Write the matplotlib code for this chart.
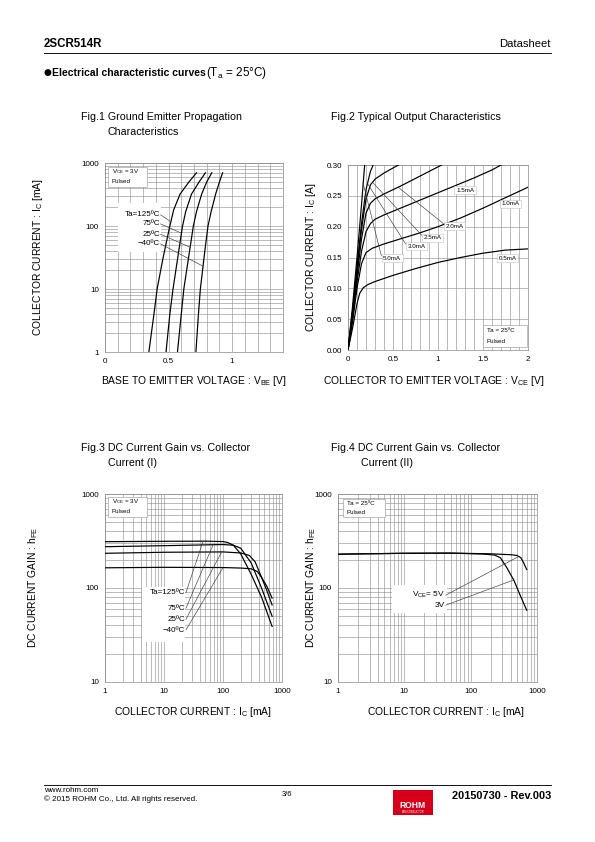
import numpy as np
import matplotlib
matplotlib.use("Agg")
import matplotlib.pyplot as plt
from matplotlib.patches import Rectangle
from matplotlib.ticker import FixedLocator, NullFormatter, LogLocator

plt.rcParams['font.family'] = ['Liberation Sans', 'DejaVu Sans']
plt.rcParams['mathtext.fontset'] = 'custom'
plt.rcParams['mathtext.rm'] = 'Liberation Sans'
plt.rcParams['mathtext.it'] = 'Liberation Sans:italic'
plt.rcParams['mathtext.bf'] = 'Liberation Sans:bold'

W, H = 595, 842

# ---------------- data ----------------
# Fig.1  VBE [V] vs IC [mA]
fig1_temps = ['125', '75', '25', '-40']
fig1_vbe = {
    '125': [0.345, 0.385, 0.41, 0.455, 0.51, 0.54, 0.59, 0.66, 0.72],
    '75':  [0.48, 0.51, 0.535, 0.58, 0.61, 0.635, 0.68, 0.74, 0.79],
    '25':  [0.57, 0.60, 0.62, 0.665, 0.695, 0.72, 0.76, 0.80, 0.84],
    '-40': [0.715, 0.735, 0.75, 0.785, 0.81, 0.835, 0.87, 0.90, 0.925],
}
fig1_ic = {
    '125': [1, 4, 10, 30, 100, 180, 320, 500, 700],
    '75':  [1, 4, 10, 40, 100, 170, 320, 500, 700],
    '25':  [1, 4, 10, 40, 100, 170, 320, 500, 700],
    '-40': [1, 4, 10, 40, 100, 170, 320, 500, 700],
}
fig1_label_ic = [150, 108, 74, 52]
fig1_target_ic = [117, 77, 46, 23]

# Fig.2  VCE [V] vs IC [A] for IB
fig2_ib = ['0.5mA', '1.0mA', '1.5mA', '2.0mA', '2.5mA', '3.0mA', '5.0mA']
fig2_vce = {
    '0.5mA': [0, 0.05, 0.1, 0.13, 0.17, 0.22, 0.3, 0.5, 0.75, 1.0, 1.25, 1.5, 1.75, 2.0],
    '1.0mA': [0, 0.05, 0.1, 0.15, 0.2, 0.27, 0.4, 0.6, 0.8, 1.0, 1.25, 1.5, 1.75, 2.0],
    '1.5mA': [0, 0.05, 0.1, 0.15, 0.2, 0.25, 0.3, 0.4, 0.6, 0.8, 1.0, 1.2, 1.4, 1.6, 1.7],
    '2.0mA': [0, 0.05, 0.1, 0.15, 0.2, 0.25, 0.3, 0.4, 0.6, 0.8, 1.04],
    '2.5mA': [0, 0.05, 0.1, 0.15, 0.2, 0.25, 0.3, 0.4, 0.56],
    '3.0mA': [0, 0.05, 0.1, 0.15, 0.2, 0.25, 0.28],
    '5.0mA': [0, 0.05, 0.1, 0.15, 0.185],
}
fig2_ic = {
    '0.5mA': [0, 0.035, 0.075, 0.092, 0.101, 0.106, 0.111, 0.121, 0.132, 0.142, 0.150, 0.157, 0.162, 0.164],
    '1.0mA': [0, 0.045, 0.10, 0.14, 0.158, 0.165, 0.172, 0.181, 0.19, 0.20, 0.214, 0.23, 0.247, 0.264],
    '1.5mA': [0, 0.05, 0.11, 0.16, 0.192, 0.205, 0.212, 0.219, 0.231, 0.243, 0.255, 0.267, 0.279, 0.292, 0.30],
    '2.0mA': [0, 0.055, 0.12, 0.18, 0.222, 0.238, 0.245, 0.253, 0.267, 0.282, 0.30],
    '2.5mA': [0, 0.06, 0.13, 0.195, 0.245, 0.268, 0.277, 0.287, 0.30],
    '3.0mA': [0, 0.063, 0.135, 0.205, 0.26, 0.29, 0.30],
    '5.0mA': [0, 0.07, 0.15, 0.235, 0.30],
}
fig2_label_pos = {
    '0.5mA': (1.77, 0.149), '1.0mA': (1.81, 0.237), '1.5mA': (1.30, 0.259),
    '2.0mA': (1.18, 0.201), '2.5mA': (0.94, 0.182), '3.0mA': (0.76, 0.168),
    '5.0mA': (0.49, 0.149),
}
fig2_target = {'2.0mA': 0.264, '2.5mA': 0.272, '3.0mA': 0.27, '5.0mA': 0.27}

# Fig.3  IC [mA] vs hFE, VCE=3V
fig3_temps = ['125', '75', '25', '-40']
fig3_ic = {
    '125': [1, 10, 50, 100, 120, 150, 200, 300, 450, 680],
    '75':  [1, 10, 100, 150, 200, 300, 450, 680],
    '25':  [1, 10, 100, 200, 280, 350, 450, 550, 680],
    '-40': [1, 10, 100, 200, 300, 380, 450, 550, 680],
}
fig3_hfe = {
    '125': [311, 314, 315, 312, 305, 285, 230, 140, 80, 39],
    '75':  [275, 282, 290, 285, 265, 185, 100, 50],
    '25':  [234, 240, 242, 236, 222, 190, 130, 95, 66],
    '-40': [164, 166, 165, 163, 160, 150, 130, 105, 78],
}
fig3_label_hfe = [89, 60.8, 46.4, 35.7]
fig3_target_ic = [46, 68, 95, 100]

# Fig.4  IC [mA] vs hFE, Ta=25C
fig4_vce = ['5V', '3V']
fig4_ic = {
    '5V': [1, 10, 50, 200, 400, 500, 570, 630, 700],
    '3V': [1, 10, 50, 150, 230, 280, 350, 450, 560, 700],
}
fig4_hfe = {
    '5V': [229, 234, 235, 231, 226, 222, 210, 185, 157],
    '3V': [229, 234, 235, 230, 224, 210, 165, 120, 83, 58],
}
fig4_label_hfe = [83.8, 65.6]
fig4_target_ic = [530, 445]

# ---------------- figure ----------------
fig = plt.figure(figsize=(W / 72, H / 72), dpi=72)
fig.patch.set_facecolor('white')

def fx(x):
    return x / W

def fy(y):
    return 1 - y / H

TICKFS = 8
def make_ax(x0, y0, x1, y1):
    ax = fig.add_axes([fx(x0), fy(y1), fx(x1) - fx(x0), (y1 - y0) / H])
    for s in ax.spines.values():
        s.set_color('#8a8a8a')
        s.set_linewidth(0.7)
    ax.tick_params(length=0, labelsize=TICKFS, pad=6, colors='black')
    return ax

GRID = dict(color='#909090', linewidth=0.6)
LINE = dict(color='black', linewidth=1.2)
LEAD = dict(color='#333333', linewidth=0.6)

def corner_box(ax, x0, y0, x1, y1, lines, fs=6.2):
    ax.add_patch(Rectangle((x0, y0), x1 - x0, y1 - y0, transform=ax.transAxes,
                           facecolor='white', edgecolor='#999999', linewidth=0.6, zorder=5))
    n = len(lines)
    for i, t in enumerate(lines):
        yy = y1 - (y1 - y0) * (i + 0.5) / n
        ax.text(x0 + 0.02, yy, t, transform=ax.transAxes, fontsize=fs,
                va='center', ha='left', zorder=6)

def white_box(ax, x0, y0, x1, y1):
    ax.add_patch(Rectangle((x0, y0), x1 - x0, y1 - y0, transform=ax.transAxes,
                           facecolor='white', edgecolor='none', zorder=3))

INFS = 8
# ---- Fig.1 ----
ax1 = make_ax(105, 163, 283, 352)
ax1.set_xlim(0, 1.4)
ax1.set_yscale('log')
ax1.set_ylim(1, 1000)
ax1.xaxis.set_major_locator(FixedLocator([0, 0.5, 1.0]))
ax1.set_xticklabels(['0', '0.5', '1'])
ax1.xaxis.set_minor_locator(FixedLocator(np.arange(0, 1.41, 0.1)))
ax1.yaxis.set_major_locator(FixedLocator([1, 10, 100, 1000]))
ax1.set_yticklabels(['1', '10', '100', '1000'])
ax1.yaxis.set_minor_locator(LogLocator(base=10, subs=np.arange(2, 10)))
ax1.yaxis.set_minor_formatter(NullFormatter())
ax1.tick_params(which='minor', length=0)
ax1.grid(True, which='both', **GRID)
ax1.set_axisbelow(True)
white_box(ax1, 0.075, 0.529, 0.315, 0.788)
for i, t in enumerate(fig1_temps):
    ax1.plot(fig1_vbe[t], fig1_ic[t], zorder=4, **LINE)
fig1_text = ['Ta=125ºC', '75ºC', '25ºC', '−40ºC']
for i, t in enumerate(fig1_temps):
    ax1.text(0.435, fig1_label_ic[i], fig1_text[i], fontsize=INFS, ha='right', va='center', zorder=6)
    tv = np.interp(np.log10(fig1_target_ic[i]), np.log10(fig1_ic[t]), fig1_vbe[t])
    ax1.plot([0.437, tv], [fig1_label_ic[i], fig1_target_ic[i]], zorder=4, **LEAD)
corner_box(ax1, 0.017, 0.873, 0.236, 0.979, ['V$_{\\mathrm{CE}}$ = 3V', 'Pulsed'])

# ---- Fig.2 ----
ax2 = make_ax(348, 165, 528, 350)
ax2.set_xlim(0, 2)
ax2.set_ylim(0, 0.30)
ax2.xaxis.set_major_locator(FixedLocator([0, 0.5, 1, 1.5, 2]))
ax2.set_xticklabels(['0', '0.5', '1', '1.5', '2'])
ax2.xaxis.set_minor_locator(FixedLocator(np.arange(0, 2.01, 0.1)))
ax2.yaxis.set_major_locator(FixedLocator(np.arange(0, 0.301, 0.05)))
ax2.set_yticklabels(['%.2f' % v for v in np.arange(0, 0.301, 0.05)])
ax2.tick_params(which='minor', length=0)
ax2.grid(True, which='both', **GRID)
ax2.set_axisbelow(True)
for k in fig2_ib:
    ax2.plot(fig2_vce[k], fig2_ic[k], zorder=4, **LINE)
for k in fig2_ib:
    lx, ly = fig2_label_pos[k]
    if k in fig2_target:
        tv = np.interp(fig2_target[k], fig2_ic[k], fig2_vce[k])
        ax2.plot([lx - 0.12, tv], [ly + 0.004, fig2_target[k]], zorder=4, **LEAD)
    ax2.text(lx, ly, k, fontsize=6.2, ha='center', va='center', zorder=6,
             bbox=dict(boxstyle='square,pad=0.25', facecolor='white', edgecolor='#bbbbbb', linewidth=0.5))
corner_box(ax2, 0.75, 0.016, 0.994, 0.135, ['Ta = 25ºC', 'Pulsed'])

def loglog_axis(ax, xlim, ylim, xt, yt):
    ax.set_xscale('log')
    ax.set_yscale('log')
    ax.set_xlim(*xlim)
    ax.set_ylim(*ylim)
    ax.xaxis.set_major_locator(FixedLocator(xt))
    ax.set_xticklabels([str(v) for v in xt])
    ax.yaxis.set_major_locator(FixedLocator(yt))
    ax.set_yticklabels([str(v) for v in yt])
    for a in (ax.xaxis, ax.yaxis):
        a.set_minor_locator(LogLocator(base=10, subs=np.arange(2, 10)))
        a.set_minor_formatter(NullFormatter())
    ax.tick_params(which='minor', length=0)
    ax.grid(True, which='both', **GRID)
    ax.set_axisbelow(True)

# ---- Fig.3 ----
ax3 = make_ax(105, 494, 282, 682)
loglog_axis(ax3, (1, 1000), (10, 1000), [1, 10, 100, 1000], [10, 100, 1000])
white_box(ax3, 0.207, 0.214, 0.452, 0.507)
for t in fig3_temps:
    ax3.plot(fig3_ic[t], fig3_hfe[t], zorder=4, **LINE)
fig3_text = ['Ta=125ºC', '75ºC', '25ºC', '−40ºC']
for i, t in enumerate(fig3_temps):
    ax3.text(22.7, fig3_label_hfe[i], fig3_text[i], fontsize=INFS, ha='right', va='center', zorder=6)
    th = np.interp(np.log10(fig3_target_ic[i]), np.log10(fig3_ic[t]), np.log10(fig3_hfe[t]))
    ax3.plot([23.5, fig3_target_ic[i]], [fig3_label_hfe[i], 10 ** th], zorder=4, **LEAD)
corner_box(ax3, 0.017, 0.878, 0.237, 0.984, ['V$_{\\mathrm{CE}}$ = 3V', 'Pulsed'])

# ---- Fig.4 ----
ax4 = make_ax(338, 494, 537, 682)
loglog_axis(ax4, (1, 1000), (10, 1000), [1, 10, 100, 1000], [10, 100, 1000])
white_box(ax4, 0.27, 0.365, 0.546, 0.516)
for k in fig4_vce:
    ax4.plot(fig4_ic[k], fig4_hfe[k], zorder=4, **LINE)
fig4_text = ['V$_{\\mathrm{CE}}$= 5V', '3V']
for i, k in enumerate(fig4_vce):
    ax4.text(41, fig4_label_hfe[i], fig4_text[i], fontsize=8.3, ha='right', va='center', zorder=6)
    th = np.interp(np.log10(fig4_target_ic[i]), np.log10(fig4_ic[k]), np.log10(fig4_hfe[k]))
    ax4.plot([42, fig4_target_ic[i]], [fig4_label_hfe[i], 10 ** th], zorder=4, **LEAD)
corner_box(ax4, 0.025, 0.878, 0.236, 0.973, ['Ta = 25ºC', 'Pulsed'])

# ---- axis labels ----
LFS = 10.3
fig.text(fx(194), fy(381), 'BASE TO EMITTER VOLTAGE : V$_{\\mathrm{BE}}$ [V]', fontsize=LFS, ha='center', va='center')
fig.text(fx(434), fy(381), 'COLLECTOR TO EMITTER VOLTAGE : V$_{\\mathrm{CE}}$ [V]', fontsize=LFS, ha='center', va='center')
fig.text(fx(193), fy(712), 'COLLECTOR CURRENT : I$_{\\mathrm{C}}$ [mA]', fontsize=LFS, ha='center', va='center')
fig.text(fx(446), fy(712), 'COLLECTOR CURRENT : I$_{\\mathrm{C}}$ [mA]', fontsize=LFS, ha='center', va='center')
fig.text(fx(38), fy(257), 'COLLECTOR CURRENT : I$_{\\mathrm{C}}$ [mA]', fontsize=LFS, ha='center', va='center', rotation=90)
fig.text(fx(311), fy(257), 'COLLECTOR CURRENT : I$_{\\mathrm{C}}$ [A]', fontsize=LFS, ha='center', va='center', rotation=90)
fig.text(fx(33), fy(588), 'DC CURRENT GAIN : h$_{\\mathrm{FE}}$', fontsize=LFS, ha='center', va='center', rotation=90)
fig.text(fx(311), fy(588), 'DC CURRENT GAIN : h$_{\\mathrm{FE}}$', fontsize=LFS, ha='center', va='center', rotation=90)

# ---- figure titles ----
TFS = 10.6
fig.text(fx(81), fy(117), 'Fig.1 Ground Emitter Propagation', fontsize=TFS, va='center')
fig.text(fx(108), fy(132), 'Characteristics', fontsize=TFS, va='center')
fig.text(fx(331), fy(117), 'Fig.2 Typical Output Characteristics', fontsize=TFS, va='center')
fig.text(fx(81), fy(448), 'Fig.3 DC Current Gain vs. Collector', fontsize=TFS, va='center')
fig.text(fx(108), fy(463), 'Current (I)', fontsize=TFS, va='center')
fig.text(fx(331), fy(448), 'Fig.4 DC Current Gain vs. Collector', fontsize=TFS, va='center')
fig.text(fx(361), fy(463), 'Current (II)', fontsize=TFS, va='center')

# ---- header ----
fig.text(fx(44), fy(44), '2SCR514R', fontsize=11.5, fontweight='bold', va='center')
fig.text(fx(551), fy(44), 'Datasheet', fontsize=11.3, ha='right', va='center')
fig.add_artist(plt.Line2D([fx(44), fx(551)], [fy(52.5), fy(52.5)], color='black', linewidth=0.9))
fig.text(fx(43.5), fy(73), '●', fontsize=9, va='center', family=['DejaVu Sans'])
bold = fig.text(fx(52), fy(73), 'Electrical characteristic curves', fontsize=10.4,
                fontweight='bold', va='center')
renderer = fig.canvas.get_renderer()
bb = bold.get_window_extent(renderer=renderer)
fig.text(bb.x1 / W, fy(73), '(T$_{\\mathrm{a}}$ = 25°C)', fontsize=11.8, va='center')

# ---- footer ----
fig.add_artist(plt.Line2D([fx(44), fx(551)], [fy(785), fy(785)], color='black', linewidth=0.9))
fig.text(fx(44), fy(790.5), 'www.rohm.com', fontsize=8, va='center')
fig.text(fx(44), fy(799.5), '© 2015 ROHM Co., Ltd. All rights reserved.', fontsize=8, va='center')
fig.text(fx(282), fy(795), '3/6', fontsize=7.5, va='center')
fig.add_artist(Rectangle((fx(393), fy(815)), fx(433) - fx(393), (815 - 790) / H,
                         transform=fig.transFigure, facecolor='#d7001a', edgecolor='none'))
fig.text(fx(413), fy(805), 'ROHM', fontsize=8.5, fontweight='bold', color='white', ha='center', va='center')
fig.text(fx(413), fy(812), 'SEMICONDUCTOR', fontsize=2.5, color='white', ha='center', va='center')
fig.text(fx(551), fy(796), '20150730 - Rev.003', fontsize=11, fontweight='bold', ha='right', va='center')

fig.savefig('out.png', dpi=72, facecolor='white')
